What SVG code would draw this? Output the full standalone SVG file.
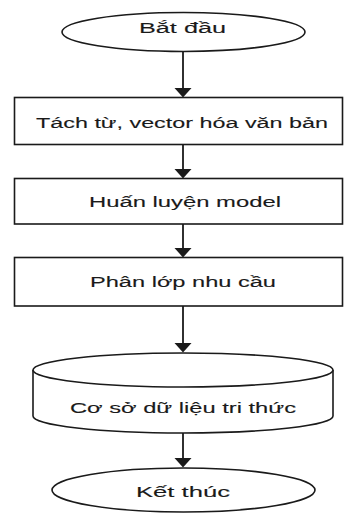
<svg xmlns="http://www.w3.org/2000/svg" width="344" height="513" viewBox="0 0 344 513">
  <defs>
    <style>
      .shape { fill: #ffffff; stroke: #1a1a1a; stroke-width: 1.6; }
      .link { stroke: #1a1a1a; stroke-width: 1.8; fill: none; }
      .head { fill: #1a1a1a; stroke: none; }
      .label { font-family: "Liberation Sans", Arial, sans-serif; font-size: 15.5px; fill: #1a1a1a; stroke: #1a1a1a; stroke-width: 0.12; }
    </style>
  </defs>
  <rect width="344" height="513" fill="#ffffff"/>

  <!-- connectors -->
  <g id="connectors">
    <line class="link" x1="183" y1="52" x2="183" y2="90"/>
    <polygon class="head" points="174.5,88 191.5,88 183,97.5"/>
    <line class="link" x1="183" y1="145" x2="183" y2="171"/>
    <polygon class="head" points="174.5,169 191.5,169 183,178.5"/>
    <line class="link" x1="183" y1="224" x2="183" y2="250"/>
    <polygon class="head" points="174.5,248 191.5,248 183,257.5"/>
    <line class="link" x1="183" y1="306" x2="183" y2="345"/>
    <polygon class="head" points="174.5,343 191.5,343 183,352.5"/>
    <line class="link" x1="183" y1="433" x2="183" y2="460"/>
    <polygon class="head" points="174.5,458 191.5,458 183,467.5"/>
  </g>

  <!-- start terminal -->
  <g id="start">
    <ellipse class="shape" cx="183.5" cy="32" rx="121.5" ry="19.5"/>
    <text class="label" x="139" y="33" textLength="87" lengthAdjust="spacingAndGlyphs">Bắt đầu</text>
  </g>

  <!-- step: tokenize and vectorize -->
  <g id="tokenize">
    <rect class="shape" x="14.5" y="97.5" width="328" height="47"/>
    <text class="label" x="36" y="128" textLength="292" lengthAdjust="spacingAndGlyphs">Tách từ, vector hóa văn bản</text>
  </g>

  <!-- step: train model -->
  <g id="train">
    <rect class="shape" x="14.5" y="178.5" width="328" height="45.5"/>
    <text class="label" x="89" y="207" textLength="192" lengthAdjust="spacingAndGlyphs">Huấn luyện model</text>
  </g>

  <!-- step: classify needs -->
  <g id="classify">
    <rect class="shape" x="14.5" y="257.5" width="328" height="48.5"/>
    <text class="label" x="90" y="287" textLength="186" lengthAdjust="spacingAndGlyphs">Phân lớp nhu cầu</text>
  </g>

  <!-- knowledge database cylinder -->
  <g id="database">
    <path class="shape" d="M33,370 A150,17 0 0 1 333,370 L333,416 A150,17 0 0 1 33,416 Z"/>
    <path class="shape" fill="none" d="M33,370 A150,17 0 0 0 333,370"/>
    <text class="label" x="70" y="413" textLength="226" lengthAdjust="spacingAndGlyphs">Cơ sở dữ liệu tri thức</text>
  </g>

  <!-- end terminal -->
  <g id="end">
    <ellipse class="shape" cx="183.5" cy="490" rx="131.5" ry="22"/>
    <text class="label" x="136" y="497" textLength="94" lengthAdjust="spacingAndGlyphs">Kết thúc</text>
  </g>
</svg>
